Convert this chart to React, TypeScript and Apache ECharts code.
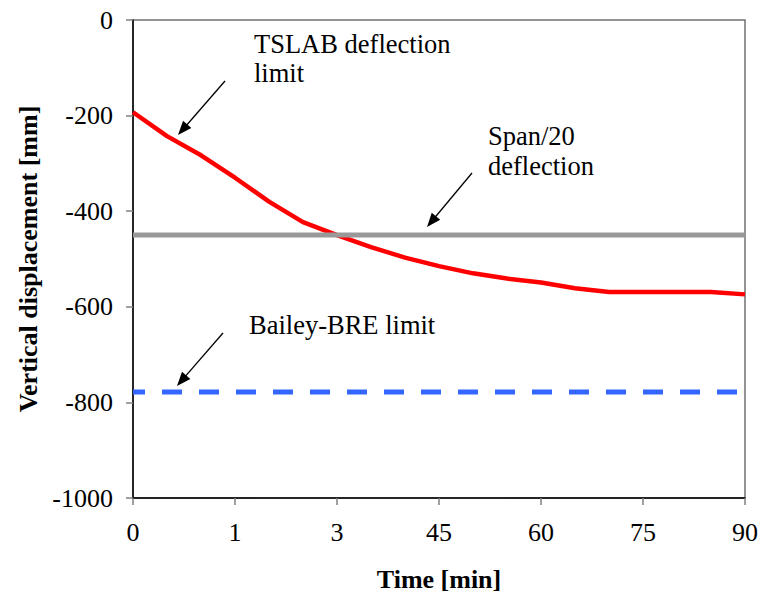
import { useEffect, useRef } from "react";
import * as echarts from "echarts";

const xTickValues = [0, 15, 30, 45, 60, 75, 90];
const xTickLabels = ["0", "1", "3", "45", "60", "75", "90"];
const yTickStep = 200;

const timeMin = [0, 5, 10, 15, 20, 25, 30, 35, 40, 45, 50, 55, 60, 65, 70, 75, 80, 85, 90];
const tslabDeflection = [-193, -243, -283, -330, -380, -423, -450, -475, -497, -515, -530, -541, -549, -561, -569, -569, -569, -569, -574];
const span20Value = -450;
const baileyValue = -778;
const lineStart = 0;
const lineEnd = 90;

const FONT = "'Times New Roman', 'Liberation Serif', serif";

function arrow(x1: number, y1: number, x2: number, y2: number) {
  const dx = x2 - x1;
  const dy = y2 - y1;
  const len = Math.sqrt(dx * dx + dy * dy);
  const ux = dx / len;
  const uy = dy / len;
  const hl = 14;
  const hw = 5.5;
  const bx = x2 - ux * hl;
  const by = y2 - uy * hl;
  const px = -uy;
  const py = ux;
  return [
    {
      type: "line",
      shape: { x1, y1, x2: bx + ux * 2, y2: by + uy * 2 },
      style: { stroke: "#000", lineWidth: 1.3 },
      silent: true,
    },
    {
      type: "polygon",
      shape: {
        points: [
          [x2, y2],
          [bx + px * hw, by + py * hw],
          [bx - px * hw, by - py * hw],
        ],
      },
      style: { fill: "#000" },
      silent: true,
    },
  ];
}

function label(text: string, x: number, y: number) {
  return {
    type: "text",
    x,
    y,
    style: {
      text,
      fill: "#000",
      fontFamily: FONT,
      fontSize: 26.5,
      textAlign: "left",
      textVerticalAlign: "middle",
    },
    silent: true,
  };
}

export default function App() {
  const ref = useRef<HTMLDivElement>(null);

  useEffect(() => {
    document.body.style.margin = "0";
    if (!ref.current) return;
    const chart = echarts.init(ref.current, undefined, { renderer: "svg" });
    const option: any = {
      animation: false,
      backgroundColor: "#fff",
      textStyle: { fontFamily: FONT },
      grid: {
        left: 133,
        right: 21,
        top: 20,
        bottom: 108,
        show: true,
        borderColor: "#707070",
        borderWidth: 1.5,
        backgroundColor: "transparent",
      },
      xAxis: {
        type: "value",
        min: 0,
        max: 90,
        interval: 15,
        name: "Time [min]",
        nameLocation: "middle",
        nameGap: 68,
        nameTextStyle: { fontFamily: FONT, fontSize: 26, fontWeight: "bold", color: "#000" },
        axisLine: { show: true, onZero: false, lineStyle: { color: "#000", width: 1.5 } },
        axisTick: { show: true, inside: false, length: 7, lineStyle: { color: "#808080", width: 1.5 } },
        axisLabel: {
          margin: 21,
          fontFamily: FONT,
          fontSize: 26,
          color: "#000",
          formatter: (v: number) => {
            const i = xTickValues.indexOf(v);
            return i >= 0 ? xTickLabels[i] : "";
          },
        },
        splitLine: { show: false },
      },
      yAxis: {
        type: "value",
        min: -1000,
        max: 0,
        interval: yTickStep,
        name: "Vertical displacement [mm]",
        nameLocation: "middle",
        nameGap: 86,
        nameTextStyle: { fontFamily: FONT, fontSize: 26, fontWeight: "bold", color: "#000" },
        axisLine: { show: true, onZero: false, lineStyle: { color: "#000", width: 1.5 } },
        axisTick: { show: true, inside: false, length: 7, lineStyle: { color: "#808080", width: 1.5 } },
        axisLabel: {
          margin: 20,
          fontFamily: FONT,
          fontSize: 26,
          color: "#000",
          formatter: (v: number) => String(v),
        },
        splitLine: { show: false },
      },
      series: [
        {
          name: "TSLAB deflection limit",
          type: "line",
          data: timeMin.map((t, i) => [t, tslabDeflection[i]]),
          showSymbol: false,
          lineStyle: { color: "#ff0000", width: 4.5 },
          z: 2,
        },
        {
          name: "Span/20 deflection",
          type: "line",
          data: [
            [lineStart, span20Value],
            [lineEnd, span20Value],
          ],
          showSymbol: false,
          lineStyle: { color: "#999999", width: 5 },
          z: 3,
        },
        {
          name: "Bailey-BRE limit",
          type: "line",
          data: [
            [lineStart, baileyValue],
            [lineEnd, baileyValue],
          ],
          showSymbol: false,
          lineStyle: { color: "#3366ff", width: 5, type: [20, 17], dashOffset: 8 },
          z: 2,
        },
      ],
      graphic: [
        label("TSLAB deflection", 254, 44),
        label("limit", 254, 73),
        label("Span/20", 488, 136),
        label("deflection", 488, 166),
        label("Bailey-BRE limit", 249, 325),
        ...arrow(225, 81, 178, 135),
        ...arrow(472, 173, 427, 227),
        ...arrow(223, 333, 177, 386),
      ],
    };
    chart.setOption(option);
    return () => chart.dispose();
  }, []);

  return <div ref={ref} style={{ width: 766, height: 606 }} />;
}
